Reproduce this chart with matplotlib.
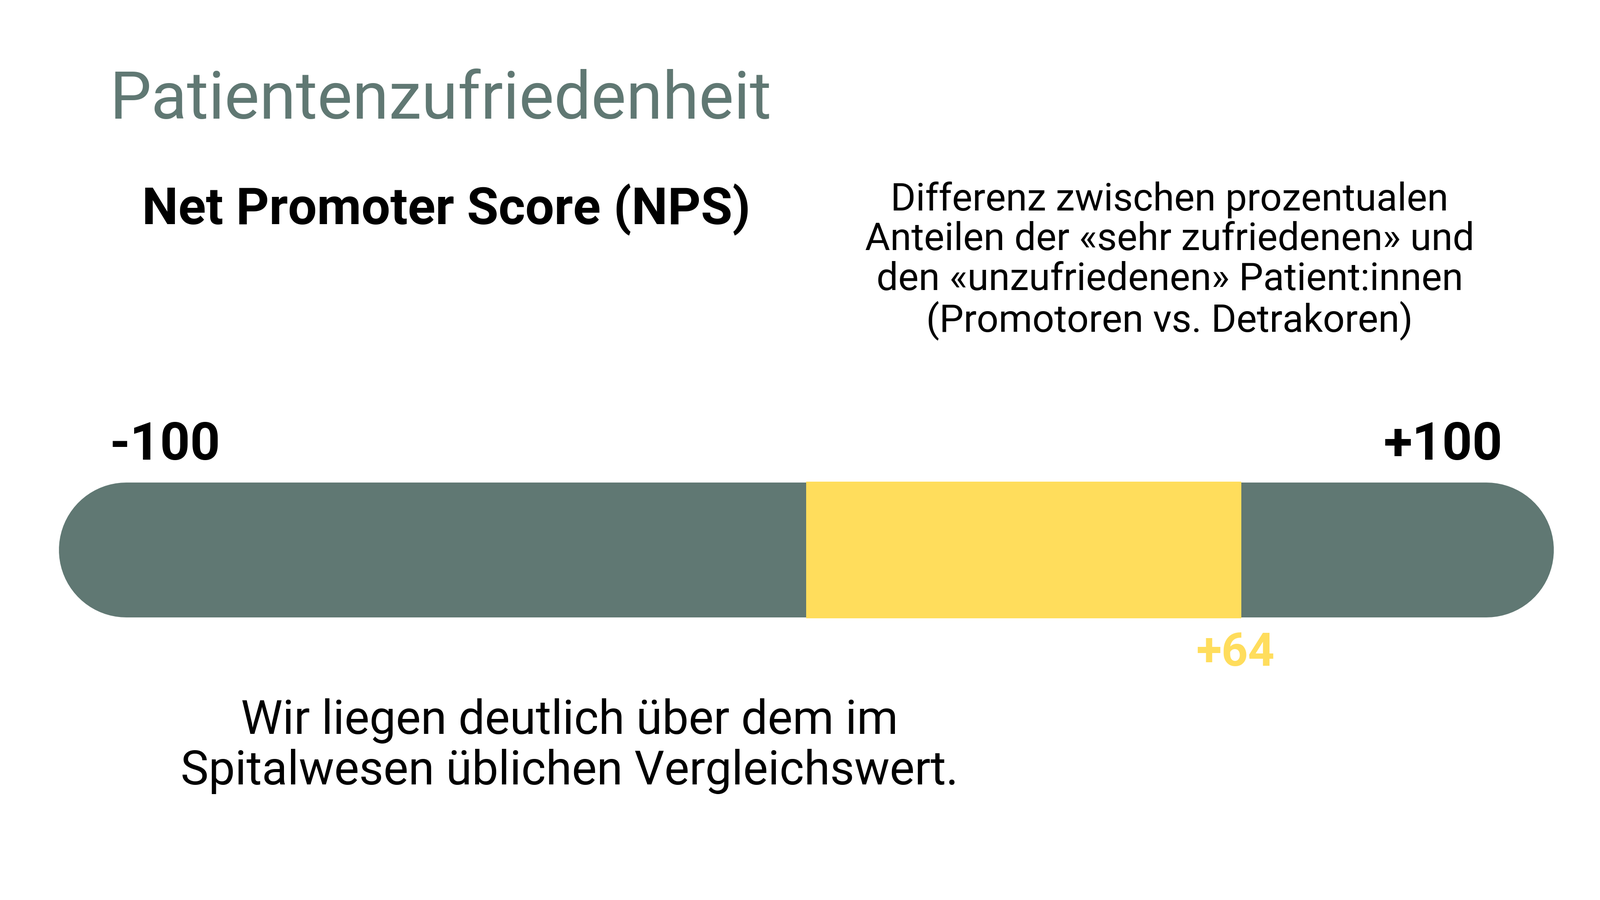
import matplotlib.pyplot as plt

# NPS scale and our value
scale_min = -100
scale_max = 100
nps_value = 64
scale_labels = ['-100', '+100']
value_label = '+64'

dark = '#607873'
yellow = '#FFDD5C'
font = 'Roboto'

fig = plt.figure(figsize=(36.4, 20.48), dpi=100)
fig.patch.set_facecolor('white')

ax = fig.add_axes([123/1560, 1 - 603/878, 1326/1560, 133/878])
ax.set_xlim(scale_min, scale_max)
ax.set_ylim(-0.5, 0.5)
ax.axis('off')

# rounded background bar (round caps stick out past the scale ends)
ax.plot([scale_min, scale_max], [0, 0], color=dark, lw=221,
        solid_capstyle='round', clip_on=False, zorder=1)
ax.barh(0, nps_value, left=0, height=1, color=yellow, zorder=2)

fig.text(0.0686, 0.888, 'Patientenzufriedenheit', fontsize=108,
         color=dark, family=font, fontweight='normal', va='center')
fig.text(0.279, 0.767, 'Net Promoter Score (NPS)', fontsize=84,
         fontweight='bold', family=font, ha='center', va='center')
fig.text(0.731, 0.71,
         'Differenz zwischen prozentualen\n'
         'Anteilen der «sehr zufriedenen» und\n'
         'den «unzufriedenen» Patient:innen\n'
         '(Promotoren vs. Detrakoren)',
         fontsize=63, family=font, ha='center', va='center', linespacing=1.1)
fig.text(0.0686, 0.505, scale_labels[0], fontsize=86, fontweight='bold',
         family=font, ha='left', va='center')
fig.text(0.939, 0.505, scale_labels[1], fontsize=86, fontweight='bold',
         family=font, ha='right', va='center')
fig.text(0.772, 0.274, value_label, fontsize=76, fontweight='bold',
         color=yellow, family=font, ha='center', va='center')
fig.text(0.356, 0.171,
         'Wir liegen deutlich über dem im\nSpitalwesen üblichen Vergleichswert.',
         fontsize=77, family=font, ha='center', va='center', linespacing=1.15)

fig.savefig('out.png', dpi=100, facecolor='white')
